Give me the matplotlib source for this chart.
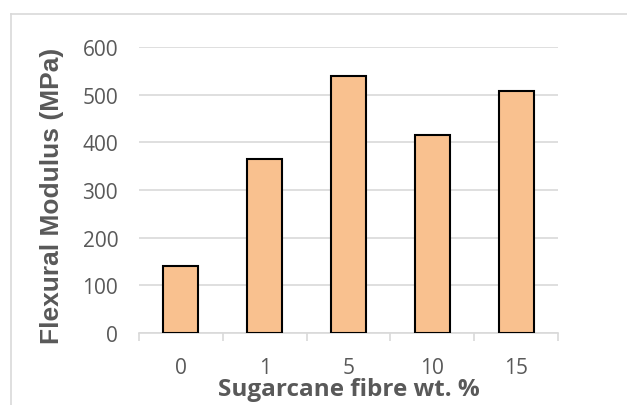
import matplotlib
matplotlib.use('Agg')
import matplotlib.pyplot as plt
from matplotlib.lines import Line2D
import numpy as np

categories = ['0', '1', '5', '10', '15']
modulus = [141, 365, 540, 415, 507]
y_ticks = [0, 100, 200, 300, 400, 500, 600]

fig = plt.figure(figsize=(6.27, 4.06), dpi=100)
ax = fig.add_axes([139 / 627, 1 - 334 / 406, (558 - 139) / 627, (334 - 48) / 406])

x = np.arange(len(categories))
ax.bar(x, modulus, width=0.42, color='#F9C18F', edgecolor='black', linewidth=1.5, zorder=3)

ax.set_xlim(-0.5, len(categories) - 0.5)
ax.set_ylim(0, 600)
ax.set_yticks(y_ticks)
ax.set_xticks(x)
ax.set_xticklabels(categories)
ax.set_xticks(np.arange(len(categories) + 1) - 0.5, minor=True)

ax.grid(axis='y', color='#D9D9D9', linewidth=1.2, zorder=0)
for s in ['top', 'right', 'left']:
    ax.spines[s].set_visible(False)
ax.spines['bottom'].set_color('#D9D9D9')
ax.spines['bottom'].set_linewidth(1.2)
ax.spines['bottom'].set_zorder(2)

ax.tick_params(axis='y', length=0, pad=15)
ax.tick_params(axis='x', which='major', length=0, pad=17.5)
ax.tick_params(axis='x', which='minor', length=6, width=1.2, color='#D9D9D9')
for lab in ax.get_xticklabels() + ax.get_yticklabels():
    lab.set_family('Open Sans')
    lab.set_fontsize(15)
    lab.set_color('#595959')

ax.set_xlabel('Sugarcane fibre wt. %', family='Open Sans', fontweight='bold',
              fontsize=17.5, color='#595959', labelpad=-1)
ax.set_ylabel('Flexural Modulus (MPa)', family='Liberation Sans', fontweight='bold',
              fontsize=19, color='#595959')
ax.yaxis.set_label_coords(-0.179, 0.484)

# outer chart frame
fig.add_artist(Line2D([10.5 / 627, 10.5 / 627], [0, 1 - 14.5 / 406], transform=fig.transFigure,
                      color='#D9D9D9', linewidth=1.2))
fig.add_artist(Line2D([10.5 / 627, 1], [1 - 14.5 / 406, 1 - 14.5 / 406], transform=fig.transFigure,
                      color='#D9D9D9', linewidth=1.2))

fig.savefig('out.png', dpi=100)
